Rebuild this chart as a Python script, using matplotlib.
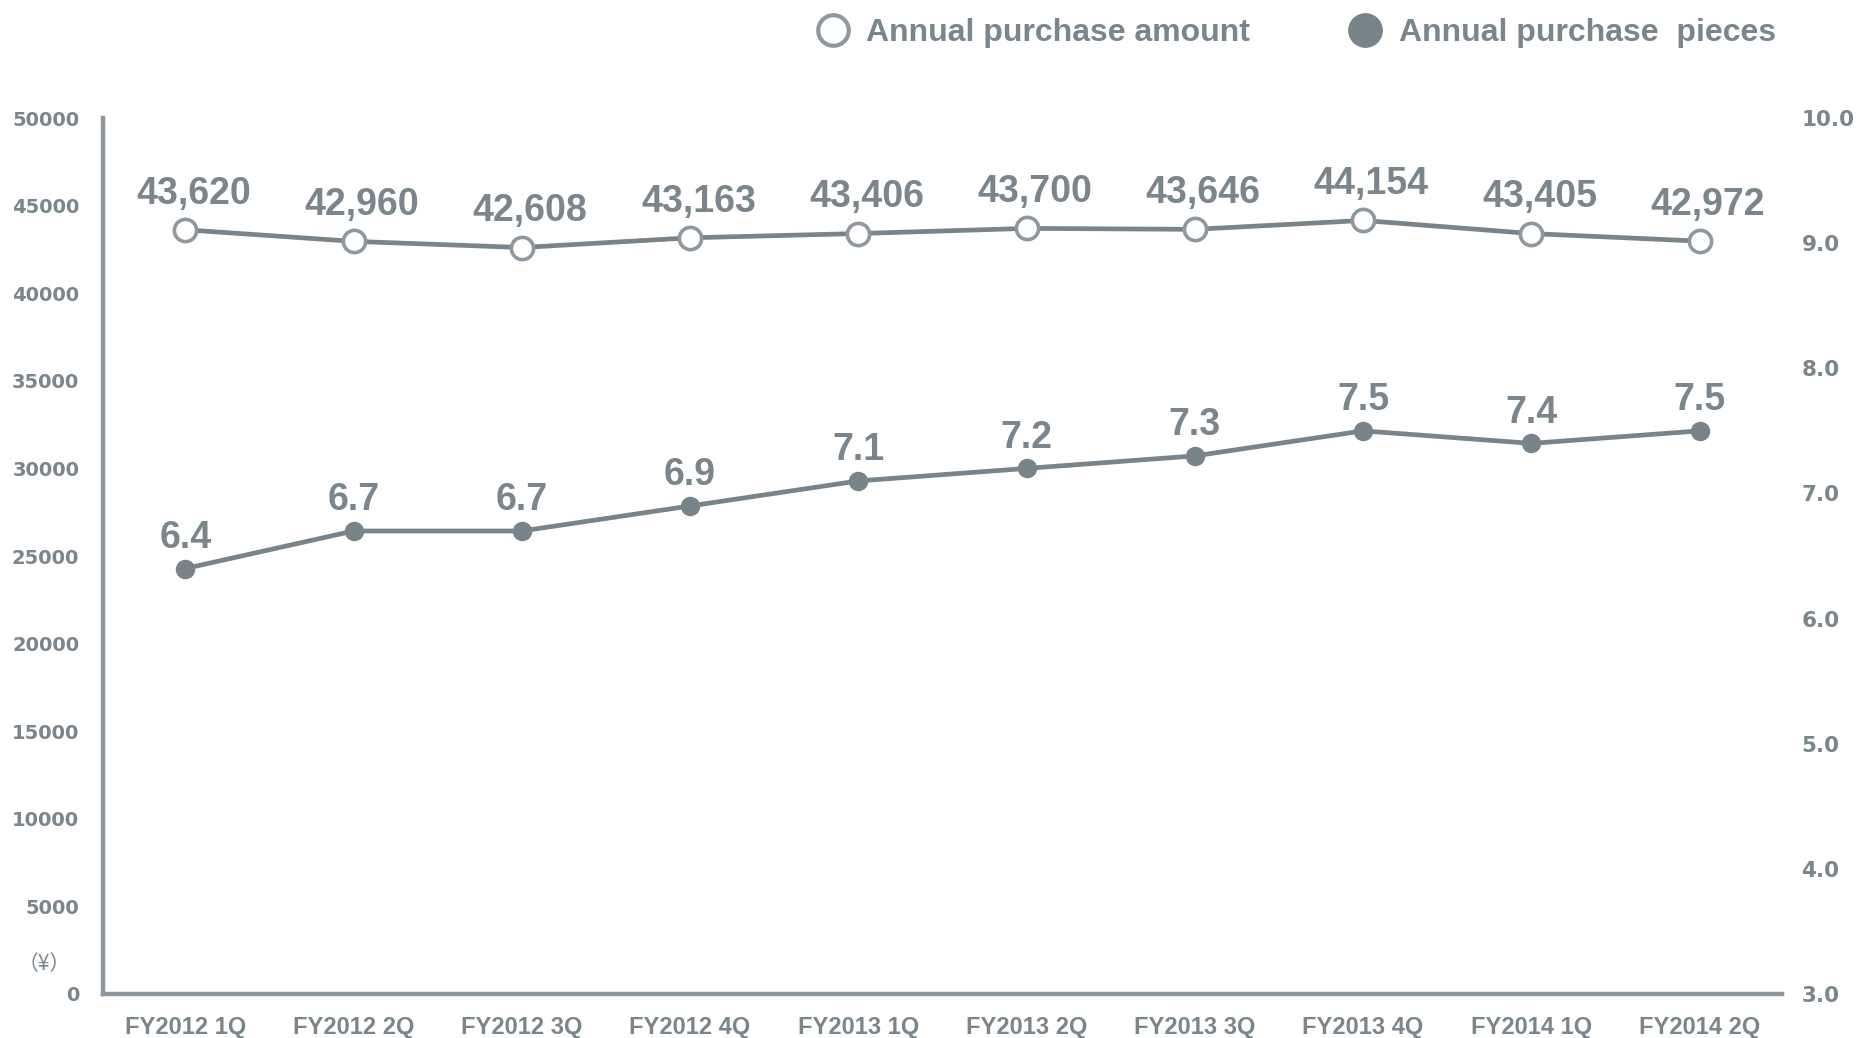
import matplotlib
matplotlib.use("Agg")
import matplotlib.pyplot as plt
from matplotlib.lines import Line2D

quarters = ["FY2012 1Q", "FY2012 2Q", "FY2012 3Q", "FY2012 4Q", "FY2013 1Q",
            "FY2013 2Q", "FY2013 3Q", "FY2013 4Q", "FY2014 1Q", "FY2014 2Q"]
amount = [43620, 42960, 42608, 43163, 43406, 43700, 43646, 44154, 43405, 42972]
pieces = [6.4, 6.7, 6.7, 6.9, 7.1, 7.2, 7.3, 7.5, 7.4, 7.5]
left_ticks = [0, 5000, 10000, 15000, 20000, 25000, 30000, 35000, 40000, 45000, 50000]
right_ticks = [3.0, 4.0, 5.0, 6.0, 7.0, 8.0, 9.0, 10.0]

LINE = "#78838a"
EDGE = "#8f979f"
SPINE = "#8e969e"
TEXT = "#7a858c"

fig = plt.figure(figsize=(18.75, 10.38), dpi=100)
ax = fig.add_axes([0.0549, 0.0424, 0.8955, 0.8439])
ax2 = ax.twinx()

x = list(range(len(quarters)))

# amount (left axis), hollow markers
ax.plot(x, amount, color=LINE, lw=3.4, marker="o", ms=16, mfc="white",
        mec=EDGE, mew=2.6, zorder=3)
for xi, v in zip(x, amount):
    ax.annotate(f"{v:,}", (xi, v), xytext=(6, 26), textcoords="offset points",
                ha="center", va="center", fontsize=27, fontweight="bold",
                color=TEXT, family="Liberation Sans")

# pieces (right axis), filled markers
ax2.plot(x, pieces, color=LINE, lw=3.4, marker="o", ms=13, mfc=LINE,
         mec=LINE, zorder=3)
for xi, v in zip(x, pieces):
    ax2.annotate(f"{v:.1f}", (xi, v), xytext=(0, 22), textcoords="offset points",
                 ha="center", va="center", fontsize=27, fontweight="bold",
                 color=TEXT, family="Liberation Sans")

ax.set_xlim(-0.49, 9.49)
ax.set_ylim(0, 50000)
ax2.set_ylim(3.0, 10.0)

ax.set_yticks(left_ticks)
ax.set_yticklabels([str(t) for t in left_ticks])
ax2.set_yticks(right_ticks)
ax2.set_yticklabels([f"{t:.1f}" for t in right_ticks])
ax.set_xticks(x)
ax.set_xticklabels(quarters)

ax.tick_params(axis="y", length=0, pad=17, labelsize=14, labelcolor=TEXT)
ax2.tick_params(axis="y", length=0, pad=14, labelsize=15.5, labelcolor=TEXT)
ax.tick_params(axis="x", length=0, pad=16, labelsize=17, labelcolor=TEXT)
for lab in ax.get_yticklabels():
    lab.set_fontweight("bold")
    lab.set_family("DejaVu Sans")
for lab in ax2.get_yticklabels():
    lab.set_fontweight("semibold")
    lab.set_family("DejaVu Sans")
for lab in ax.get_xticklabels():
    lab.set_fontweight("bold")
    lab.set_family("Liberation Sans")

for a in (ax, ax2):
    for s in ("top", "right"):
        a.spines[s].set_visible(False)
ax2.spines["left"].set_visible(False)
ax2.spines["bottom"].set_visible(False)
ax.spines["left"].set_color(SPINE)
ax.spines["bottom"].set_color(SPINE)
ax.spines["left"].set_linewidth(3.2)
ax.spines["bottom"].set_linewidth(3.2)

# currency unit above the zero tick
ax.text(-0.019, 0.034, "（¥）", transform=ax.transAxes, ha="right", va="center",
        fontsize=15, color=TEXT, family=["Noto Sans CJK JP", "DejaVu Sans"])

handles = [
    Line2D([], [], ls="none", marker="o", ms=22, mfc="white", mec=EDGE, mew=3),
    Line2D([], [], ls="none", marker="o", ms=24, mfc=LINE, mec=LINE),
]
leg = fig.legend(handles, ["Annual purchase amount", "Annual purchase  pieces"],
                 loc="upper right", bbox_to_anchor=(0.9625, 1.01), ncol=2,
                 frameon=False, handletextpad=0.05, columnspacing=2.6,
                 prop={"family": "Liberation Sans", "weight": "bold", "size": 23})
for t in leg.get_texts():
    t.set_color(TEXT)

fig.savefig("out.png", dpi=100, facecolor="white")
